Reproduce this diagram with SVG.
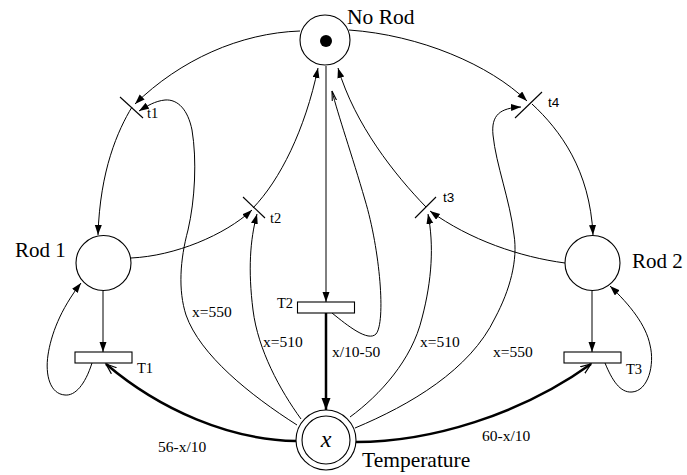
<svg xmlns="http://www.w3.org/2000/svg" width="687" height="475" viewBox="0 0 687 475">
<style>
.pl{fill:#fff;stroke:#000;stroke-width:1.1}
.tr{fill:#fff;stroke:#000;stroke-width:1.1}
.bar{stroke:#000;stroke-width:1.1}
.e{fill:none;stroke:#000;stroke-width:1}
.thick{fill:none;stroke:#000;stroke-width:2.5}
.lbl{font-family:"Liberation Serif","Times New Roman",serif;fill:#000}
.sans{font-family:"Liberation Sans",Arial,sans-serif;fill:#000}
</style>
<defs>
<marker id="af" markerUnits="userSpaceOnUse" markerWidth="11" markerHeight="8" refX="10" refY="3.5" orient="auto"><path d="M0,0 L10,3.5 L0,7 z" fill="#000"/></marker>
<marker id="ab" markerUnits="userSpaceOnUse" markerWidth="13" markerHeight="10" refX="12" refY="4.5" orient="auto"><path d="M0,0 L12,4.5 L0,9 z" fill="#000"/></marker>
<marker id="ao" markerUnits="userSpaceOnUse" markerWidth="12" markerHeight="10" refX="10.5" refY="4.5" orient="auto"><path d="M0,0.5 L10.5,4.5 L0,8.5" fill="none" stroke="#000" stroke-width="1.2"/></marker>
<marker id="an" markerUnits="userSpaceOnUse" markerWidth="12" markerHeight="8" refX="10" refY="3" orient="auto"><path d="M0,0.8 L10,3 L0,5.2" fill="none" stroke="#000" stroke-width="1.1"/></marker>
</defs>

<g id="connectors">
<path class="e" d="M300,31 C240,33 180,60 135,104" marker-end="url(#af)"/>
<path class="e" d="M132,107 C118,130 100,170 98,235" marker-end="url(#af)"/>
<path class="e" d="M131,258 C175,256 225,235 252,210" marker-end="url(#af)"/>
<path class="e" d="M253,208 C280,180 305,130 318,68" marker-end="url(#af)"/>
<path class="e" d="M565,263 C520,257 470,240 430,211" marker-end="url(#af)"/>
<path class="e" d="M426,207 C395,175 355,125 338,68" marker-end="url(#af)"/>
<path class="e" d="M349,30 C420,35 490,65 527,101" marker-end="url(#af)"/>
<path class="e" d="M532,104 C560,130 590,170 593,235" marker-end="url(#af)"/>
<path class="e" d="M103,291 L103,352" marker-end="url(#af)"/>
<path class="e" d="M592,291 L592,352" marker-end="url(#af)"/>
<path class="e" d="M326,66 L326,302" marker-end="url(#af)"/>
<path class="thick" d="M326,313 L326,410" marker-end="url(#ab)"/>
<path class="e" d="M332,313 C348,326 368,342 376,334 C386,322 380,250 365,200 C352,155 338,115 332,91" marker-end="url(#an)"/>
<path class="e" d="M92,363 C85,385 75,396 65,395 C50,394 45,375 48,355 C51,335 60,310 81,283" marker-end="url(#af)"/>
<path class="e" d="M605,363 C612,380 620,393 632,392 C648,391 655,365 650,345 C646,325 630,305 610,286" marker-end="url(#af)"/>
<path class="e" d="M297,425 C250,395 200,355 186,315 C178,290 180,260 188,230 C195,200 197,160 192,130 C188,110 178,99 165,100 C155,101 147,106 139,111" marker-end="url(#af)"/>
<path class="e" d="M301,419 C280,390 258,350 253,310 C248,270 250,240 257,214" marker-end="url(#af)"/>
<path class="e" d="M350,417 C380,395 412,360 422,318 C432,280 434,245 428,214" marker-end="url(#af)"/>
<path class="e" d="M355,428 C410,405 470,370 495,318 C510,290 518,260 514,235 C510,200 496,165 493,135 C491,115 500,108 521,107" marker-end="url(#af)"/>
<path class="thick" d="M296,441 C230,440 160,410 106,364" marker-end="url(#ao)"/>
<path class="thick" d="M356,442 C430,442 520,415 591,364" marker-end="url(#ao)"/>
</g>

<g id="NoRod">
<circle class="pl" cx="325" cy="40" r="25"/>
<circle cx="326" cy="41" r="6" fill="#000"/>
<text class="lbl" x="347" y="24" font-size="21.5">No Rod</text>
</g>
<g id="Rod1">
<circle class="pl" cx="103.5" cy="263" r="27.5"/>
<text class="lbl" x="15" y="257" font-size="21">Rod 1</text>
</g>
<g id="Rod2">
<circle class="pl" cx="592.5" cy="263" r="27.5"/>
<text class="lbl" x="632" y="268" font-size="21">Rod 2</text>
</g>
<g id="Temperature">
<circle class="pl" cx="326" cy="440" r="30"/>
<circle class="pl" cx="326" cy="440" r="24"/>
<text class="lbl" x="326" y="447" font-size="24" font-style="italic" text-anchor="middle">x</text>
<text class="lbl" x="362" y="467" font-size="21.5">Temperature</text>
</g>
<g id="T1">
<rect class="tr" x="75" y="352" width="57" height="11"/>
<text class="lbl" x="137" y="373" font-size="14.5">T1</text>
</g>
<g id="T2">
<rect class="tr" x="297.5" y="302" width="57" height="11"/>
<text class="lbl" x="277" y="308" font-size="14.5">T2</text>
</g>
<g id="T3">
<rect class="tr" x="564" y="352" width="57" height="11"/>
<text class="lbl" x="626" y="374" font-size="14.5">T3</text>
</g>
<g id="t1">
<line class="bar" x1="120" y1="97" x2="143" y2="118"/>
<text class="lbl" x="147" y="118" font-size="14.5">t1</text>
</g>
<g id="t2">
<line class="bar" x1="243" y1="197" x2="265" y2="218"/>
<text class="lbl" x="270" y="223" font-size="14.5">t2</text>
</g>
<g id="t3">
<line class="bar" x1="415" y1="218" x2="436" y2="197"/>
<text class="sans" x="443" y="202" font-size="13.5">t3</text>
</g>
<g id="t4">
<line class="bar" x1="515" y1="118" x2="542" y2="92"/>
<text class="sans" x="548" y="107" font-size="13.5">t4</text>
</g>
<g id="labels">
<text class="lbl" x="192" y="317" font-size="15.5">x=550</text>
<text class="lbl" x="263" y="347" font-size="15.5">x=510</text>
<text class="lbl" x="332" y="357" font-size="15.5">x/10-50</text>
<text class="lbl" x="420" y="347" font-size="15.5">x=510</text>
<text class="lbl" x="493" y="357" font-size="15.5">x=550</text>
<text class="lbl" x="158" y="452" font-size="15.5">56-x/10</text>
<text class="lbl" x="482" y="441" font-size="15.5">60-x/10</text>
</g>
</svg>
